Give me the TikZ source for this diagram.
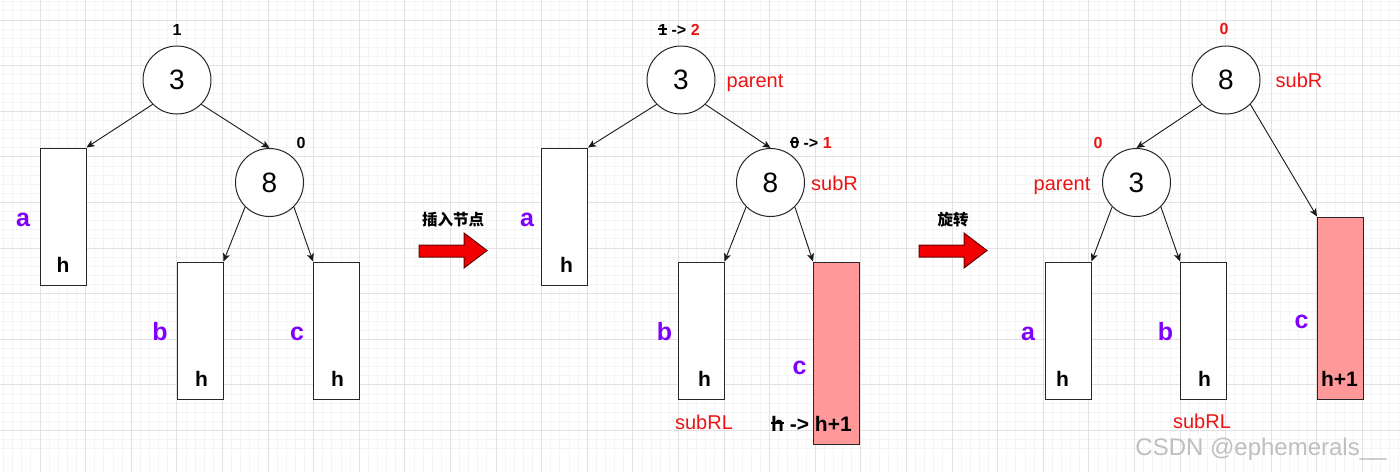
\documentclass[tikz,border=0pt]{standalone}
\usepackage{fontspec}
\setmainfont{Liberation Sans}
\newfontfamily\cjk{Noto Sans CJK SC}
\newcommand\mystrike[1]{\setbox0\hbox{#1}\rlap{\rule[0.34em]{\wd0}{0.08em}}\box0\relax}
\usetikzlibrary{arrows.meta}
\definecolor{purp}{RGB}{127,0,255}
\definecolor{hred}{RGB}{255,153,153}
\definecolor{tred}{RGB}{235,20,20}
\definecolor{minorg}{RGB}{244,244,244}
\definecolor{majorg}{RGB}{226,226,226}
\definecolor{barrow}{RGB}{240,0,0}
\begin{document}
\begin{tikzpicture}[x=1pt,y=-1pt,
  circ/.style={draw=black!85,line width=1pt,circle,fill=white,minimum size=68pt,inner sep=0pt,font=\fontsize{28}{30}\selectfont},
  subtree/.style={draw=black!85,line width=1pt,rectangle,fill=white,minimum width=46pt,minimum height=137pt,inner sep=0pt},
  redtree/.style={subtree,fill=hred,minimum height=182pt},
  conn/.style={line width=0.9pt,black!90,-{Stealth[length=8pt,width=7pt,inset=2pt]}},
  lbl/.style={anchor=base,inner sep=0pt,text=purp,font=\fontsize{25}{27}\selectfont\bfseries},
  hl/.style={anchor=base,inner sep=0pt,font=\fontsize{21}{23}\selectfont\bfseries},
  bf/.style={anchor=base,inner sep=0pt,font=\fontsize{16}{18}\selectfont\bfseries},
  nm/.style={anchor=base,inner sep=0pt,text=tred,font=\fontsize{20}{22}\selectfont},
  cj/.style={inner sep=0pt,font=\fontsize{15.5}{17}\selectfont\cjk\bfseries},
  blockarrow/.style={fill=barrow,draw=black!60!red,line width=1pt}
]
\useasboundingbox (0,0) rectangle (1400,472);
\fill[white] (0,0) rectangle (1400,472);
% grid
\foreach \i in {0,...,154} {
  \draw[minorg,line width=0.8pt] ({-5.6+9.12*\i},0) -- ({-5.6+9.12*\i},472);
}
\foreach \i in {0,...,52} {
  \draw[minorg,line width=0.8pt] (0,{-25.6+9.12*\i}) -- (1400,{-25.6+9.12*\i});
}
\foreach \i in {0,...,31} {
  \draw[majorg,line width=0.9pt] ({-5.6+45.6*\i},0) -- ({-5.6+45.6*\i},472);
}
\foreach \i in {0,...,10} {
  \draw[majorg,line width=0.9pt] (0,{-25.6+45.6*\i}) -- (1400,{-25.6+45.6*\i});
}

% ---------------- Panel 1 ----------------
\node[subtree] (a1) at (63,216.5) {};
\node[subtree] (b1) at (200,330.5) {};
\node[subtree] (c1) at (336.5,330.5) {};
\node[circ] (n31) at (177,80) {3};
\node[circ] (n81) at (269.5,182.5) {8};
\draw[conn] (n31.south west) -- (a1.north east);
\draw[conn] (n31.south east) -- (n81.north);
\draw[conn] (n81.south west) -- (b1.north east);
\draw[conn] (n81.south east) -- (c1.north west);
\node[bf] (bf31) at (177,35) {1};
\node[bf] (bf81) at (301,148) {0};
\node[lbl] (la1) at (23,226) {a};
\node[lbl] (lb1) at (160,340) {b};
\node[lbl] (lc1) at (297,340) {c};
\node[hl] (ha1) at (63,272) {h};
\node[hl] (hb1) at (201.5,386) {h};
\node[hl] (hc1) at (337.5,386) {h};

% arrow 1
\node[cj] (t1) at (453,220) {插入节点};
\draw[blockarrow] (419,245) -- (464,245) -- (464,233) -- (487,250.5) -- (464,268) -- (464,257) -- (419,257) -- cycle;

% ---------------- Panel 2 ----------------
\node[subtree] (a2) at (564.5,216.5) {};
\node[subtree] (b2) at (701,330.5) {};
\node[redtree] (c2) at (836.5,353) {};
\node[circ] (n32) at (681,80) {3};
\node[circ] (n82) at (770.5,182.5) {8};
\draw[conn] (n32.south west) -- (a2.north east);
\draw[conn] (n32.south east) -- (n82.north);
\draw[conn] (n82.south west) -- (b2.north east);
\draw[conn] (n82.south east) -- (c2.north west);
\node[bf] (bf32) at (679,35) {\mystrike{1} -> \textcolor{tred}{2}};
\node[bf] (bf82) at (811,148) {\mystrike{0} -> \textcolor{tred}{1}};
\node[nm] (par2) at (755,87) {parent};
\node[nm] (sr2) at (834.5,190) {subR};
\node[nm] (srl2) at (704,429) {subRL};
\node[lbl] (la2) at (527,226) {a};
\node[lbl] (lb2) at (664.5,340) {b};
\node[lbl] (lc2) at (799.5,374) {c};
\node[hl] (ha2) at (566.5,272) {h};
\node[hl] (hb2) at (704.5,386) {h};
\node[hl] (hc2) at (811.5,431) {\mystrike{h} -> h+1};

% arrow 2
\node[cj] (t2) at (953,220) {旋转};
\draw[blockarrow] (919,245) -- (964,245) -- (964,233) -- (987,250.5) -- (964,268) -- (964,257) -- (919,257) -- cycle;

% ---------------- Panel 3 ----------------
\node[subtree] (a3) at (1068,330.5) {};
\node[subtree] (b3) at (1203.5,330.5) {};
\node[redtree] (c3) at (1340.5,308) {};
\node[circ] (n83) at (1226,80) {8};
\node[circ] (n33) at (1136.5,182.5) {3};
\draw[conn] (n83.south west) -- (n33.north);
\draw[conn] (n83.south east) -- (c3.north west);
\draw[conn] (n33.south west) -- (a3.north east);
\draw[conn] (n33.south east) -- (b3.north west);
\node[bf,text=tred] (bf83) at (1224,34) {0};
\node[bf,text=tred] (bf33) at (1098,148) {0};
\node[nm] (sr3) at (1299,87) {subR};
\node[nm] (par3) at (1062,190) {parent};
\node[nm] (srl3) at (1202,428) {subRL};
\node[lbl] (la3) at (1028,340) {a};
\node[lbl] (lb3) at (1165.5,340) {b};
\node[lbl] (lc3) at (1301.5,328) {c};
\node[hl] (ha3) at (1062.5,386) {h};
\node[hl] (hb3) at (1204.5,386) {h};
\node[hl] (hc3) at (1339.5,386) {h+1};

% watermark
\node[anchor=base,inner sep=0pt,text=black!25,font=\fontsize{24}{26}\selectfont] (wm) at (1261,455) {CSDN @ephemerals\_\_};
\end{tikzpicture}
\end{document}
